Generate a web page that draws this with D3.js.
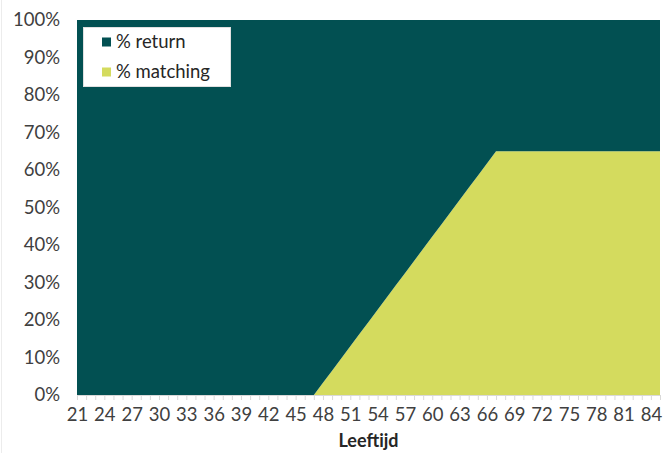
<!DOCTYPE html>
<html>
<head>
<meta charset="utf-8">
<script src="https://cdn.jsdelivr.net/npm/d3@7"></script>
<style>
  html, body { margin: 0; padding: 0; background: #fff; }
  svg { display: block; font-family: Lato, "Open Sans", sans-serif; }
</style>
</head>
<body>
<svg id="chart" width="664" height="453"></svg>
<script>
// Ages on the category axis (21 through 85)
const ages = [21,22,23,24,25,26,27,28,29,30,31,32,33,34,35,36,37,38,39,40,41,42,43,44,45,46,47,
  48,49,50,51,52,53,54,55,56,57,58,59,60,61,62,63,64,65,66,67,
  68,69,70,71,72,73,74,75,76,77,78,79,80,81,82,83,84,85];

// Share invested for matching (%), per age
const matching = [0,0,0,0,0,0,0,0,0,0,0,0,0,0,0,0,0,0,0,0,0,0,0,0,0,0,0,
  3.25,6.5,9.75,13,16.25,19.5,22.75,26,29.25,32.5,35.75,39,42.25,45.5,48.75,52,55.25,58.5,61.75,65,
  65,65,65,65,65,65,65,65,65,65,65,65,65,65,65,65,65,65];

// Share invested for return (%), per age
const ret = [100,100,100,100,100,100,100,100,100,100,100,100,100,100,100,100,100,100,100,100,100,100,100,100,100,100,100,
  96.75,93.5,90.25,87,83.75,80.5,77.25,74,70.75,67.5,64.25,61,57.75,54.5,51.25,48,44.75,41.5,38.25,35,
  35,35,35,35,35,35,35,35,35,35,35,35,35,35,35,35,35,35];

// Labelled ages on the x axis
const xTickLabels = [21,24,27,30,33,36,39,42,45,48,51,54,57,60,63,66,69,72,75,78,81,84];
const yTicks = [0,10,20,30,40,50,60,70,80,90,100];

const seriesNames = ["% return", "% matching"];
const colors = { "% return": "#025052", "% matching": "#d4db5e" };

const svg = d3.select("#chart");
const margin = { left: 77, right: 4, top: 20, bottom: 58 };
const W = 664, H = 453;
const innerW = W - margin.left - margin.right;
const innerH = H - margin.top - margin.bottom;

const x = d3.scaleLinear().domain([d3.min(ages), d3.max(ages)]).range([margin.left, margin.left + innerW]);
const y = d3.scaleLinear().domain([0, 100]).range([margin.top + innerH, margin.top]);

// faint frame line on the left edge
svg.append("line").attr("x1", 1.5).attr("x2", 1.5).attr("y1", 0).attr("y2", H)
  .attr("stroke", "#ececec").attr("stroke-width", 1);

const rows = ages.map((a, i) => ({ age: a, "% matching": matching[i], "% return": ret[i] }));
const stack = d3.stack().keys(["% matching", "% return"]);
const layers = stack(rows);

const area = d3.area()
  .x(d => x(d.data.age))
  .y0(d => y(d[0]))
  .y1(d => y(d[1]));

svg.append("g").selectAll("path")
  .data(layers)
  .join("path")
  .attr("d", area)
  .attr("fill", d => colors[d.key]);

// x axis: a tick per age, labels every third age
const xAxis = d3.axisBottom(x)
  .tickValues(ages)
  .tickSize(5)
  .tickFormat(d => xTickLabels.includes(d) ? d : "");
const gx = svg.append("g")
  .attr("transform", `translate(0,${margin.top + innerH})`)
  .call(xAxis);
gx.select(".domain").attr("stroke", "#d9d9d9");
gx.selectAll(".tick line").attr("stroke", "#d9d9d9");
gx.selectAll(".tick text")
  .attr("fill", "#404040")
  .attr("font-size", 18.5)
  .attr("font-family", "Lato, sans-serif")
  .attr("dy", "0.71em")
  .attr("y", 13);

// y axis labels
const yAxis = d3.axisLeft(y)
  .tickValues(yTicks)
  .tickSize(0)
  .tickPadding(17)
  .tickFormat(d => d + "%");
const gy = svg.append("g")
  .attr("transform", `translate(${margin.left},0)`)
  .call(yAxis);
gy.select(".domain").remove();
gy.selectAll(".tick text")
  .attr("fill", "#404040")
  .attr("font-size", 18.5)
  .attr("font-family", "Lato, sans-serif");

// axis title
svg.append("text")
  .attr("x", margin.left + innerW / 2)
  .attr("y", 447)
  .attr("text-anchor", "middle")
  .attr("font-size", 18)
  .attr("font-weight", "bold")
  .attr("fill", "#262626")
  .text("Leeftijd");

// legend
const lg = svg.append("g");
lg.append("rect")
  .attr("x", 83.5).attr("y", 27.5).attr("width", 147).attr("height", 59)
  .attr("fill", "#fff").attr("stroke", "#e0e0e0");
seriesNames.forEach((name, i) => {
  const cy = 42 + i * 30;
  lg.append("rect")
    .attr("x", 102).attr("y", cy - 4.5).attr("width", 9).attr("height", 9)
    .attr("fill", colors[name]);
  lg.append("text")
    .attr("x", 116).attr("y", cy)
    .attr("dy", "0.35em")
    .attr("font-size", 18.5)
    .attr("fill", "#262626")
    .text(name);
});
</script>
</body>
</html>
